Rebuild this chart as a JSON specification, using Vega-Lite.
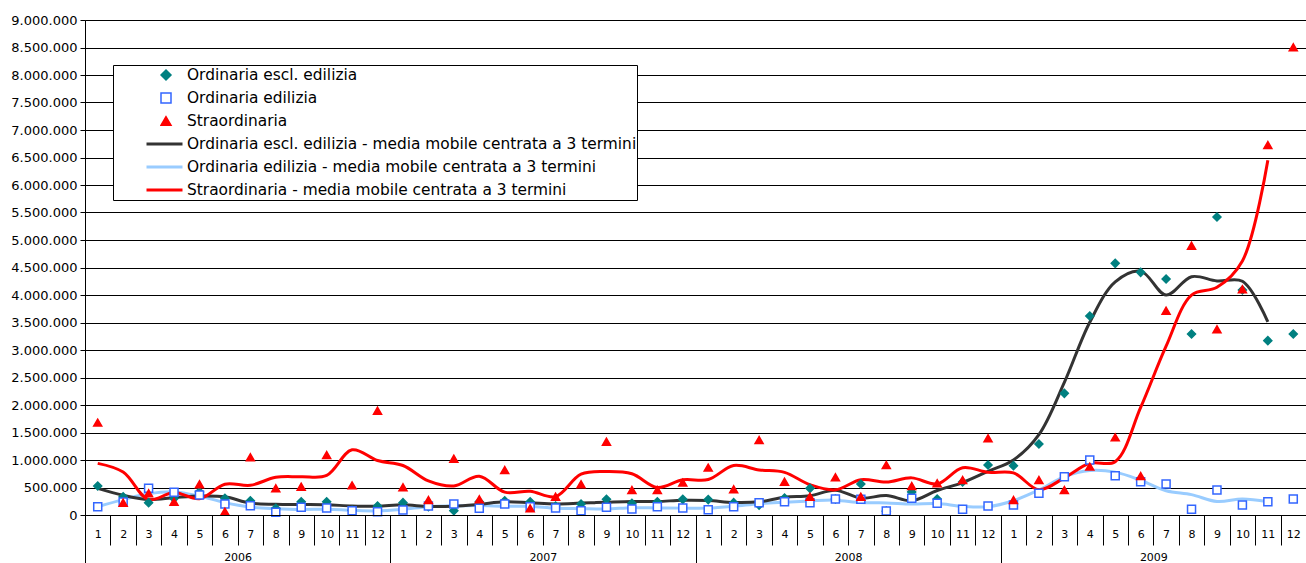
{
  "$schema": "https://vega.github.io/schema/vega-lite/v6.json",
  "width": 1221,
  "height": 495,
  "autosize": {"type": "none"},
  "padding": {"left": 85, "top": 20, "right": 0, "bottom": 48},
  "background": "white",
  "config": {
    "locale": {"number": {"decimal": ",", "thousands": ".", "grouping": [3], "currency": ["€", ""]}},
    "view": {"stroke": "#808080", "strokeWidth": 1},
    "font": "DejaVu Sans"
  },
  "data": {"values": [
    {"t":"2006-01","yr":"2006","G":527000,"B":150000,"R":1679000,"MG":485000,"MB":150000,"MR":939000},
    {"t":"2006-02","yr":"2006","G":330000,"B":236000,"R":224000,"MG":360000,"MB":280000,"MR":780000},
    {"t":"2006-03","yr":"2006","G":224000,"B":485000,"R":394000,"MG":280000,"MB":385000,"MR":280000},
    {"t":"2006-04","yr":"2006","G":300000,"B":412000,"R":242000,"MG":315000,"MB":420000,"MR":410000},
    {"t":"2006-05","yr":"2006","G":420000,"B":364000,"R":558000,"MG":345000,"MB":345000,"MR":295000},
    {"t":"2006-06","yr":"2006","G":303000,"B":200000,"R":61000,"MG":330000,"MB":225000,"MR":560000},
    {"t":"2006-07","yr":"2006","G":260000,"B":170000,"R":1049000,"MG":215000,"MB":145000,"MR":540000},
    {"t":"2006-08","yr":"2006","G":121000,"B":48000,"R":485000,"MG":195000,"MB":115000,"MR":685000},
    {"t":"2006-09","yr":"2006","G":242000,"B":139000,"R":515000,"MG":190000,"MB":100000,"MR":697000},
    {"t":"2006-10","yr":"2006","G":242000,"B":127000,"R":1091000,"MG":185000,"MB":105000,"MR":720000},
    {"t":"2006-11","yr":"2006","G":85000,"B":79000,"R":539000,"MG":165000,"MB":85000,"MR":1185000},
    {"t":"2006-12","yr":"2006","G":164000,"B":61000,"R":1897000,"MG":160000,"MB":75000,"MR":990000},
    {"t":"2007-01","yr":"2007","G":224000,"B":91000,"R":503000,"MG":185000,"MB":105000,"MR":900000},
    {"t":"2007-02","yr":"2007","G":152000,"B":164000,"R":273000,"MG":155000,"MB":152000,"MR":620000},
    {"t":"2007-03","yr":"2007","G":79000,"B":200000,"R":1024000,"MG":160000,"MB":165000,"MR":527000},
    {"t":"2007-04","yr":"2007","G":240000,"B":121000,"R":285000,"MG":195000,"MB":172000,"MR":705000},
    {"t":"2007-05","yr":"2007","G":260000,"B":200000,"R":818000,"MG":240000,"MB":160000,"MR":415000},
    {"t":"2007-06","yr":"2007","G":242000,"B":152000,"R":121000,"MG":222000,"MB":158000,"MR":430000},
    {"t":"2007-07","yr":"2007","G":164000,"B":127000,"R":333000,"MG":202000,"MB":122000,"MR":335000},
    {"t":"2007-08","yr":"2007","G":200000,"B":79000,"R":558000,"MG":216000,"MB":115000,"MR":742000},
    {"t":"2007-09","yr":"2007","G":285000,"B":139000,"R":1333000,"MG":232000,"MB":110000,"MR":790000},
    {"t":"2007-10","yr":"2007","G":212000,"B":109000,"R":455000,"MG":246000,"MB":133000,"MR":750000},
    {"t":"2007-11","yr":"2007","G":242000,"B":152000,"R":455000,"MG":246000,"MB":129000,"MR":500000},
    {"t":"2007-12","yr":"2007","G":285000,"B":127000,"R":588000,"MG":268000,"MB":125000,"MR":640000},
    {"t":"2008-01","yr":"2008","G":280000,"B":97000,"R":861000,"MG":263000,"MB":125000,"MR":645000},
    {"t":"2008-02","yr":"2008","G":224000,"B":152000,"R":467000,"MG":228000,"MB":158000,"MR":900000},
    {"t":"2008-03","yr":"2008","G":180000,"B":224000,"R":1364000,"MG":240000,"MB":205000,"MR":820000},
    {"t":"2008-04","yr":"2008","G":310000,"B":242000,"R":606000,"MG":323000,"MB":232000,"MR":775000},
    {"t":"2008-05","yr":"2008","G":485000,"B":224000,"R":333000,"MG":350000,"MB":255000,"MR":550000},
    {"t":"2008-06","yr":"2008","G":290000,"B":291000,"R":685000,"MG":450000,"MB":270000,"MR":458000},
    {"t":"2008-07","yr":"2008","G":564000,"B":285000,"R":333000,"MG":306000,"MB":225000,"MR":640000},
    {"t":"2008-08","yr":"2008","G":70000,"B":73000,"R":909000,"MG":355000,"MB":220000,"MR":598000},
    {"t":"2008-09","yr":"2008","G":420000,"B":303000,"R":527000,"MG":260000,"MB":200000,"MR":675000},
    {"t":"2008-10","yr":"2008","G":290000,"B":212000,"R":576000,"MG":445000,"MB":208000,"MR":565000},
    {"t":"2008-11","yr":"2008","G":600000,"B":103000,"R":636000,"MG":590000,"MB":158000,"MR":860000},
    {"t":"2008-12","yr":"2008","G":909000,"B":164000,"R":1394000,"MG":795000,"MB":152000,"MR":775000},
    {"t":"2009-01","yr":"2009","G":897000,"B":182000,"R":273000,"MG":1000000,"MB":260000,"MR":765000},
    {"t":"2009-02","yr":"2009","G":1291000,"B":394000,"R":636000,"MG":1460000,"MB":455000,"MR":460000},
    {"t":"2009-03","yr":"2009","G":2212000,"B":697000,"R":455000,"MG":2410000,"MB":697000,"MR":675000},
    {"t":"2009-04","yr":"2009","G":3618000,"B":1000000,"R":879000,"MG":3505000,"MB":810000,"MR":940000},
    {"t":"2009-05","yr":"2009","G":4576000,"B":715000,"R":1412000,"MG":4240000,"MB":780000,"MR":970000},
    {"t":"2009-06","yr":"2009","G":4412000,"B":606000,"R":709000,"MG":4434000,"MB":632000,"MR":1955000},
    {"t":"2009-07","yr":"2009","G":4291000,"B":564000,"R":3715000,"MG":4000000,"MB":440000,"MR":3070000},
    {"t":"2009-08","yr":"2009","G":3291000,"B":103000,"R":4897000,"MG":4333000,"MB":370000,"MR":3998000},
    {"t":"2009-09","yr":"2009","G":5418000,"B":455000,"R":3376000,"MG":4255000,"MB":245000,"MR":4140000},
    {"t":"2009-10","yr":"2009","G":4091000,"B":182000,"R":4103000,"MG":4250000,"MB":290000,"MR":4620000},
    {"t":"2009-11","yr":"2009","G":3170000,"B":242000,"R":6727000,"MG":3510000,"MB":240000,"MR":6450000},
    {"t":"2009-12","yr":"2009","G":3291000,"B":291000,"R":8503000}
  ]},
  "layer": [
    {
      "mark": {"type": "rect", "opacity": 0},
      "encoding": {
        "x": {
          "field": "t", "type": "ordinal",
          "scale": {"type": "band", "paddingInner": 0, "paddingOuter": 0},
          "axis": {
            "orient": "bottom", "title": null, "grid": false,
            "labelExpr": "isString(datum.value) ? '' + toNumber(substring(datum.value, 5, 7)) : ''",
            "labelAngle": 0, "tickBand": "extent", "tickSize": 30,
            "tickColor": "black", "domainColor": "black",
            "labelPadding": -11, "labelBaseline": "middle",
            "labelFontSize": 11, "labelColor": "black"
          }
        }
      }
    },
    {
      "mark": {"type": "rect", "opacity": 0},
      "encoding": {
        "x": {
          "field": "yr", "type": "ordinal",
          "scale": {"type": "band", "paddingInner": 0, "paddingOuter": 0},
          "axis": {
            "orient": "bottom", "title": null, "grid": false, "domain": false,
            "labelAngle": 0, "tickBand": "extent", "tickSize": 48, "tickColor": "black",
            "labelPadding": -6, "labelBaseline": "middle",
            "labelFontSize": 11, "labelColor": "black"
          }
        }
      }
    },
    {
      "encoding": {
        "x": {"field": "t", "type": "ordinal", "axis": null},
        "y": {
          "field": "v", "type": "quantitative",
          "scale": {"domain": [0, 9000000], "nice": false},
          "axis": {
            "title": null,
            "values": [0,500000,1000000,1500000,2000000,2500000,3000000,3500000,4000000,4500000,5000000,5500000,6000000,6500000,7000000,7500000,8000000,8500000,9000000],
            "format": ",d", "tickSize": 5, "labelPadding": 3,
            "labelFontSize": 13, "labelColor": "black",
            "domainColor": "black", "tickColor": "black",
            "grid": true, "gridColor": "black", "gridOpacity": 1, "gridWidth": 1
          }
        }
      },
      "layer": [
        {
          "transform": [
            {"fold": ["MB", "MG", "MR"], "as": ["s", "v"]},
            {"filter": "datum.v != null"}
          ],
          "mark": {"type": "line", "strokeWidth": 3, "interpolate": "catmull-rom"},
          "encoding": {
            "color": {
              "field": "s", "type": "nominal",
              "scale": {"domain": ["G", "B", "R", "MG", "MB", "MR"], "range": ["#008080", "#3366ff", "#ff0000", "#333333", "#99ccff", "#ff0000"]},
              "legend": {
                "orient": "none", "legendX": 28, "legendY": 45, "direction": "vertical",
                "title": null, "padding": 0, "fillColor": "white", "strokeColor": "black",
                "symbolType": "stroke", "symbolSize": 4624, "symbolStrokeWidth": 3,
                "symbolDash": [0, 32, 36, 0],
                "clipHeight": 20, "rowPadding": 3, "labelOffset": 3,
                "labelFontSize": 15.4, "labelLimit": 1000, "labelColor": "black",
                "zindex": 0,
                "labelExpr": "datum.value === 'G' ? 'Ordinaria escl. edilizia' : datum.value === 'B' ? 'Ordinaria edilizia' : datum.value === 'R' ? 'Straordinaria' : datum.value === 'MG' ? 'Ordinaria escl. edilizia - media mobile centrata a 3 termini' : datum.value === 'MB' ? 'Ordinaria edilizia - media mobile centrata a 3 termini' : 'Straordinaria - media mobile centrata a 3 termini'",
                "encode": {"symbols": {"update": {"opacity": {"signal": "indexof(['G','B','R'], datum.value) >= 0 ? 0 : 1"}}}}
              }
            }
          }
        },
        {
          "transform": [
            {"fold": ["G", "B", "R"], "as": ["s", "v"]}
          ],
          "mark": {"type": "point", "opacity": 1, "strokeWidth": 1.5, "size": 64},
          "encoding": {
            "shape": {
              "field": "s", "type": "nominal",
              "scale": {"domain": ["G", "B", "R"], "range": ["diamond", "square", "triangle-up"]},
              "legend": {
                "orient": "none", "legendX": 75, "legendY": 45, "direction": "vertical",
                "title": null, "padding": 0, "clipHeight": 20, "rowPadding": 3,
                "labelExpr": "''", "labelFontSize": 1, "symbolStrokeWidth": 1.5,
                "zindex": 1
              }
            },
            "fill": {
              "field": "s", "type": "nominal",
              "scale": {"domain": ["G", "B", "R"], "range": ["#008080", "#ffffff", "#ff0000"]}
            },
            "stroke": {
              "field": "s", "type": "nominal",
              "scale": {"domain": ["G", "B", "R"], "range": ["#008080", "#3366ff", "#ff0000"]}
            }
          }
        }
      ]
    }
  ],
  "resolve": {"scale": {"x": "independent"}, "axis": {"x": "independent"}}
}
